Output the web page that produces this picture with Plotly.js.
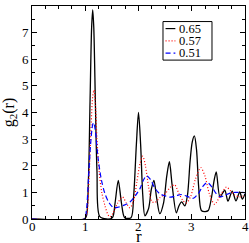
<!DOCTYPE html>
<html>
<head>
<meta charset="utf-8">
<script src="https://cdn.plot.ly/plotly-3.0.1.min.js"></script>
<style>html,body{margin:0;padding:0;background:#fff;}#chart{width:249px;height:243px;}</style>
</head>
<body>
<div id="chart"></div>
<script>
// phi = 0.65 (black solid)
const r65 = [0,0.98,1.02,1.06,1.09,1.12,1.14,1.16,1.19,1.22,1.27,1.40,1.51,1.56,1.62,1.68,1.74,1.86,1.91,1.96,2.00,2.04,2.08,2.12,2.19,2.24,2.29,2.34,2.40,2.47,2.53,2.58,2.63,2.71,2.76,2.81,2.87,2.92,2.97,3.01,3.05,3.09,3.13,3.18,3.25,3.31,3.37,3.42,3.46,3.53,3.62,3.68,3.76,3.83,3.90,3.95,4.00];
const g65 = [0,0,0.1,1.5,4.4,7.2,7.85,7.2,4.4,1.8,0.1,0,0.05,0.6,1.45,0.6,0.05,0.05,0.9,2.8,4.0,2.8,0.9,0.12,0.4,1.1,1.45,0.8,0.2,0.6,1.6,2.15,1.3,0.23,0.5,0.64,0.49,0.9,2.2,2.9,3.12,2.6,1.2,0.32,0.28,0.32,0.8,1.45,1.77,0.83,1.08,0.67,1.05,0.68,1.02,0.75,0.95];
// phi = 0.57 (red dotted)
const r57 = [0,0.98,1.03,1.07,1.11,1.14,1.165,1.19,1.22,1.26,1.31,1.37,1.43,1.47,1.53,1.61,1.70,1.77,1.84,1.91,1.97,2.03,2.08,2.13,2.19,2.25,2.31,2.40,2.50,2.60,2.68,2.76,2.84,2.90,2.98,3.07,3.17,3.25,3.33,3.43,3.54,3.65,3.73,3.81,3.90,3.96,4.00];
const g57 = [0,0,0.2,1.5,3.5,4.6,4.85,4.3,3.0,1.8,1.0,0.5,0.15,0.08,0.25,0.6,0.83,0.6,0.42,0.7,1.4,2.1,2.36,2.0,1.2,0.66,0.62,0.8,0.95,1.2,1.28,0.95,0.68,0.6,0.85,1.5,1.93,1.6,0.95,0.55,0.9,1.2,1.05,0.89,0.83,0.86,0.9];
// phi = 0.51 (blue dashed)
const r51 = [0,0.98,1.02,1.06,1.10,1.14,1.16,1.19,1.24,1.30,1.37,1.45,1.53,1.63,1.73,1.84,1.95,2.03,2.09,2.15,2.22,2.31,2.40,2.50,2.60,2.72,2.80,2.90,3.03,3.12,3.20,3.29,3.38,3.46,3.54,3.63,3.72,3.81,3.90,4.00];
const g51 = [0,0,0.3,1.5,2.8,3.55,3.62,3.3,2.3,1.5,0.95,0.6,0.43,0.45,0.52,0.64,0.9,1.15,1.45,1.62,1.5,1.15,0.95,0.87,0.82,0.88,0.92,0.86,0.78,0.95,1.2,1.37,1.2,0.95,0.83,0.9,0.97,1.0,1.0,0.99];
const names = ['0.65','0.57','0.51'];
const colors = ['#000000','#ff0000','#0000ff'];
const dashes = ['solid','1px,2px','5px,3px'];
const xTicks = [0,1,2,3,4];
const yTicks = [0,1,2,3,4,5,6,7,8];

const serif = 'Liberation Serif, Times New Roman, serif';
const series = [[r65,g65],[r57,g57],[r51,g51]];
const traces = series.map((s,i) => ({
  x:s[0], y:s[1], name:names[i], mode:'lines', showlegend:false,
  line:{color:colors[i], width:i===0?1.3:1.2, shape:'spline', smoothing:0.8, dash:dashes[i]}
}));

// hand-drawn legend box (paper coordinates)
const legX0 = 0.615, legX1 = 0.845, legY0 = 0.746, legY1 = 0.927;
const rowY = [0.894, 0.836, 0.779];
const shapes = [{type:'rect', xref:'paper', yref:'paper', x0:legX0, x1:legX1, y0:legY0, y1:legY1,
                 line:{color:'#000', width:1}, fillcolor:'#fff', layer:'above'}];
const annotations = [];
names.forEach((n,i) => {
  shapes.push({type:'line', xref:'paper', yref:'paper', x0:0.627, x1:0.673, y0:rowY[i], y1:rowY[i],
               line:{color:colors[i], width:1.2, dash:dashes[i]}, layer:'above'});
  annotations.push({xref:'paper', yref:'paper', x:0.687, y:rowY[i], xanchor:'left', yanchor:'middle',
                    text:n, showarrow:false, borderpad:0,
                    font:{family:serif, size:12.5, color:'#000'}});
});
// x tick labels placed on the x scale, just under the axis
xTicks.forEach(t => {
  annotations.push({xref:'x', yref:'paper', x:t, y:-0.037, xanchor:'center', yanchor:'middle',
                    text:String(t), showarrow:false, borderpad:0,
                    font:{family:serif, size:13, color:'#000'}});
});
// x-axis title
annotations.push({xref:'paper', yref:'paper', x:0.5, y:-0.084, xanchor:'center', yanchor:'middle',
                  text:'r', showarrow:false, borderpad:0,
                  font:{family:serif, size:17, color:'#000'}});

const axBase = {
  showline:true, linecolor:'#000', linewidth:1, mirror:'allticks',
  ticks:'inside', ticklen:5, tickwidth:1, tickcolor:'#000',
  showgrid:false, zeroline:false,
  tickfont:{family:serif, size:13, color:'#000'}
};
const layout = {
  width:249, height:243,
  margin:{l:32, r:4, t:6, b:24},
  paper_bgcolor:'#fff', plot_bgcolor:'#fff',
  font:{family:serif, color:'#000'},
  showlegend:false,
  shapes:shapes, annotations:annotations,
  xaxis:Object.assign({}, axBase, {range:[0,4], tickvals:xTicks, showticklabels:false,
          minor:{dtick:0.25, ticklen:3, ticks:'inside', tickcolor:'#000'}}),
  yaxis:Object.assign({}, axBase, {range:[0,8], tickvals:yTicks, ticktext:yTicks.map(String),
          minor:{dtick:0.5, ticklen:3, ticks:'inside', tickcolor:'#000'},
          title:{text:'g<sub>2</sub>(r)', font:{family:serif, size:16, color:'#000'}, standoff:4}})
};
Plotly.newPlot('chart', traces, layout, {staticPlot:true, displayModeBar:false});
</script>
</body>
</html>
